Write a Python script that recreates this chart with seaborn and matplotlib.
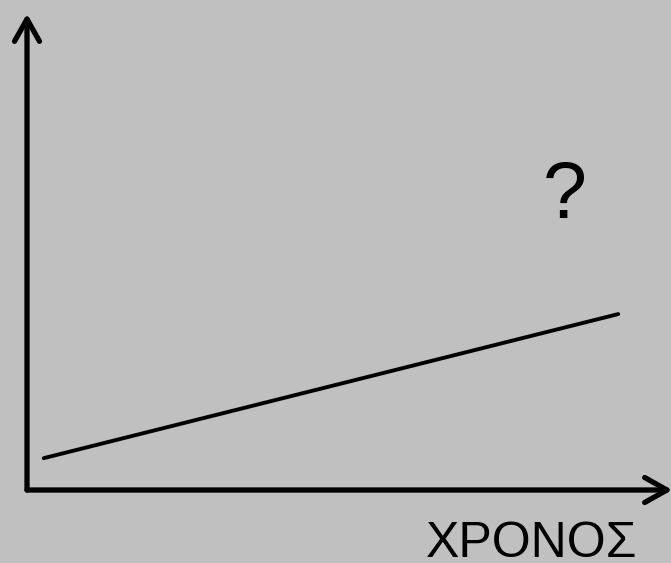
import matplotlib
matplotlib.use("Agg")
import matplotlib.pyplot as plt
import seaborn as sns
import pandas as pd

# Data
time = [0.26, 9.18]
value = [0.65, 3.59]
x_label = "ΧΡΟΝΟΣ"
question = "?"

sns.set_theme(style="white")
plt.rcParams['font.family'] = ['Liberation Sans', 'DejaVu Sans']

W, H, DPI = 671, 563, 100
bg = "#C0C0C0"
fig = plt.figure(figsize=(W / DPI, H / DPI), dpi=DPI, facecolor=bg)
ax = fig.add_axes([27 / W, (H - 490) / H, (W - 27) / W, 490 / H])
ax.set_facecolor(bg)
ax.set_xlim(0, 10)
ax.set_ylim(0, 10)
for s in ax.spines.values():
    s.set_visible(False)
ax.set_xticks([])
ax.set_yticks([])

df = pd.DataFrame({"t": time, "v": value})
sns.lineplot(data=df, x="t", y="v", ax=ax, color="black", linewidth=2.8, legend=False)
ax.set_xlabel("")
ax.set_ylabel("")

arrow = dict(arrowstyle="->,head_length=1.6,head_width=0.9", mutation_scale=10,
             lw=3.8, color="black", shrinkA=0, shrinkB=0,
             capstyle="round", joinstyle="round")
ax.annotate("", xy=(1.002, 0), xytext=(0.0, 0), xycoords="axes fraction",
            arrowprops=arrow, annotation_clip=False)
ax.annotate("", xy=(0, 0.972), xytext=(0, 0.0), xycoords="axes fraction",
            arrowprops=arrow, annotation_clip=False)

fig.text(532 / W, 1 - 557 / H, x_label, ha="center", va="baseline", fontsize=36, color="black")
fig.text(565 / W, 1 - 218 / H, question, ha="center", va="baseline", fontsize=57, color="black")

fig.savefig("out.png", dpi=DPI, facecolor=bg)
